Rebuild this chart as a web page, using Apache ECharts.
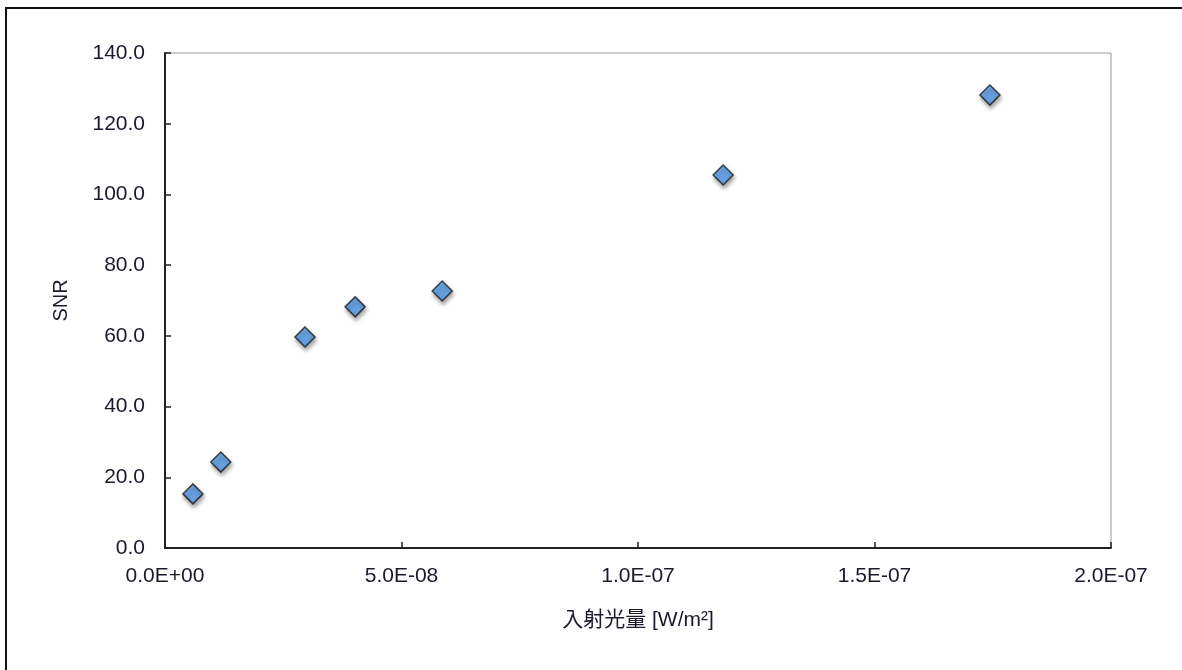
<!DOCTYPE html>
<html>
<head>
<meta charset="utf-8">
<script src="https://cdn.jsdelivr.net/npm/echarts@6/dist/echarts.min.js"></script>
<style>
  html, body { margin: 0; padding: 0; background: #fff; }
  #chart { width: 1182px; height: 670px; }
</style>
</head>
<body>
<div id="chart"></div>
<script>
// 入射光量 [W/m2] と SNR
var irradiance = [5.9e-9, 1.18e-8, 2.96e-8, 4.02e-8, 5.86e-8, 1.18e-7, 1.744e-7];
var snr = [15.3, 24.3, 59.7, 68.2, 72.7, 105.5, 128.1];
var xTickLabels = ['0.0E+00', '5.0E-08', '1.0E-07', '1.5E-07', '2.0E-07'];

var font = '"Liberation Sans", "Noto Sans CJK JP", sans-serif';

var chart = echarts.init(document.getElementById('chart'));

chart.setOption({
  animation: false,
  textStyle: { fontFamily: font },
  grid: { left: 165, right: 71, top: 53, bottom: 122, show: true, borderColor: '#999', borderWidth: 1 },
  graphic: [{
    type: 'rect',
    shape: { x: 6, y: 8, width: 1200, height: 700 },
    style: { fill: 'none', stroke: '#111', lineWidth: 2 },
    silent: true
  }],
  xAxis: {
    type: 'value',
    min: 0,
    max: 2e-7,
    interval: 5e-8,
    name: '入射光量 [W/m²]',
    nameLocation: 'middle',
    nameGap: 62,
    nameTextStyle: { color: '#1a1a2a', fontSize: 21, fontFamily: font },
    axisLine: { lineStyle: { color: '#222', width: 2 } },
    axisTick: { inside: true, length: 6, lineStyle: { color: '#222', width: 1.5 } },
    axisLabel: {
      color: '#1a1a2a', fontSize: 21, margin: 18,
      formatter: function (v) { return xTickLabels[Math.round(v / 5e-8)]; }
    },
    splitLine: { show: false }
  },
  yAxis: {
    type: 'value',
    min: 0,
    max: 140,
    interval: 20,
    name: 'SNR',
    nameLocation: 'middle',
    nameGap: 94,
    nameTextStyle: { color: '#1a1a2a', fontSize: 20, fontFamily: font },
    axisLine: { show: true, lineStyle: { color: '#222', width: 2 } },
    axisTick: { show: true, inside: true, length: 6, lineStyle: { color: '#222', width: 1.5 } },
    axisLabel: {
      color: '#1a1a2a', fontSize: 21, margin: 20,
      formatter: function (v) { return v.toFixed(1); }
    },
    splitLine: { show: false }
  },
  series: [{
    type: 'scatter',
    data: irradiance.map(function (x, i) { return [x, snr[i]]; }),
    symbol: 'diamond',
    symbolSize: 20,
    itemStyle: {
      color: '#559df0',
      borderColor: '#1a1a1a',
      borderWidth: 1.5,
      shadowColor: 'rgba(0,0,0,0.45)',
      shadowBlur: 4,
      shadowOffsetX: 1,
      shadowOffsetY: 3
    }
  }]
});
</script>
</body>
</html>
